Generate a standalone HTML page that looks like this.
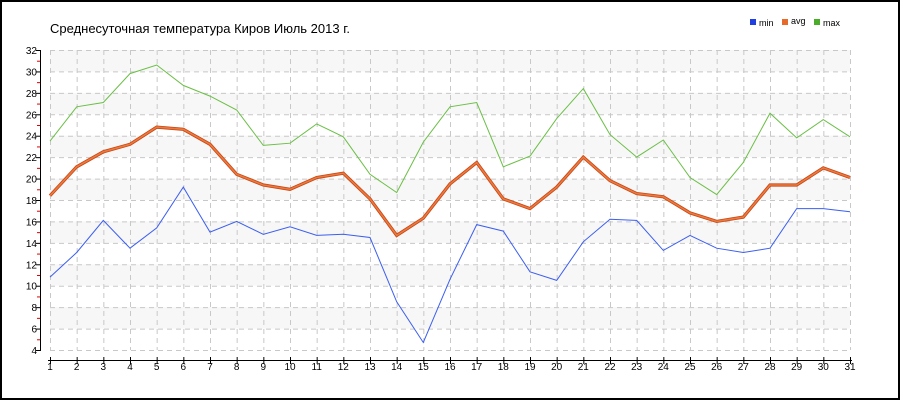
<!DOCTYPE html>
<html><head><meta charset="utf-8"><style>
body{margin:0;background:#fff}
svg{display:block;font-family:"Liberation Sans","DejaVu Sans",sans-serif}
</style></head><body>
<svg id="s" width="900" height="400" viewBox="0 0 900 400">
<rect x="1" y="1" width="898" height="398" fill="#fff" stroke="#000" stroke-width="2"/>
<g id="bands"></g>
<g id="grid" stroke="#c8c8c8" stroke-dasharray="5,4" stroke-width="1"></g>
<text x="50" y="33" font-size="13" fill="#000">Среднесуточная температура Киров  Июль 2013 г.</text>
<rect x="750" y="19" width="6" height="6" fill="#1f3fe0"/><text x="759" y="26" font-size="9">min</text>
<rect x="782" y="19" width="6" height="6" fill="#e86a2a"/><text x="791" y="24" font-size="9">avg</text>
<rect x="814" y="19" width="6" height="6" fill="#4aad2a"/><text x="823" y="26" font-size="9">max</text>
<g font-size="10" text-anchor="end" fill="#000">
<text x="37" y="354">4</text><text x="37" y="332.6">6</text><text x="37" y="311.1">8</text><text x="37" y="289.7">10</text><text x="37" y="268.3">12</text><text x="37" y="246.9">14</text><text x="37" y="225.4">16</text><text x="37" y="204">18</text><text x="37" y="182.6">20</text><text x="37" y="161.1">22</text><text x="37" y="139.7">24</text><text x="37" y="118.3">26</text><text x="37" y="96.9">28</text><text x="37" y="75.4">30</text><text x="37" y="54">32</text>
</g>
<g font-size="10" text-anchor="middle" fill="#000">
<text x="50" y="370">1</text><text x="76.7" y="370">2</text><text x="103.3" y="370">3</text><text x="130" y="370">4</text><text x="156.7" y="370">5</text><text x="183.3" y="370">6</text><text x="210" y="370">7</text><text x="236.7" y="370">8</text><text x="263.3" y="370">9</text><text x="290" y="370">10</text><text x="316.7" y="370">11</text><text x="343.3" y="370">12</text><text x="370" y="370">13</text><text x="396.7" y="370">14</text><text x="423.3" y="370">15</text><text x="450" y="370">16</text><text x="476.7" y="370">17</text><text x="503.3" y="370">18</text><text x="530" y="370">19</text><text x="556.7" y="370">20</text><text x="583.3" y="370">21</text><text x="610" y="370">22</text><text x="636.7" y="370">23</text><text x="663.3" y="370">24</text><text x="690" y="370">25</text><text x="716.7" y="370">26</text><text x="743.3" y="370">27</text><text x="770" y="370">28</text><text x="796.7" y="370">29</text><text x="823.3" y="370">30</text><text x="850" y="370">31</text>
</g>
<g id="axes" stroke="#000" stroke-width="1"></g>
<g id="lines" fill="none"></g>
</svg>
<script>
var NS="http://www.w3.org/2000/svg";
function el(p,t,a){var e=document.createElementNS(NS,t);for(var k in a)e.setAttribute(k,a[k]);document.getElementById(p).appendChild(e);return e;}
function Y(v){return 350-(v-4)*300/28;}
function X(d){return 50+(d-1)*800/30;}
for(var v=6;v<32;v+=4){el("bands","rect",{x:50,y:Y(v+2),width:800,height:Y(v)-Y(v+2),fill:"#f7f7f7"});}
el("bands","rect",{x:50,y:Y(32),width:800,height:Y(30)-Y(32),fill:"#f7f7f7"});
for(var v=4;v<=32;v+=2)el("grid","line",{x1:50,x2:850,y1:Y(v)+.5,y2:Y(v)+.5});
for(var d=1;d<=31;d++)el("grid","line",{x1:X(d)+.5,x2:X(d)+.5,y1:50,y2:350});
el("axes","line",{x1:40.5,x2:40.5,y1:50,y2:351});
for(var v=4;v<=32;v+=2)el("axes","line",{x1:36,x2:41,y1:Y(v)+.5,y2:Y(v)+.5});
for(var v=5;v<32;v+=2)el("axes","line",{x1:37,x2:40,y1:Y(v)+.5,y2:Y(v)+.5,stroke:"#e00000"});
el("axes","line",{x1:48,x2:852,y1:360.5,y2:360.5});
for(var d=1;d<=31;d++)el("axes","line",{x1:X(d)+.5,x2:X(d)+.5,y1:357,y2:364});
var mx=[23.5,26.7,27.1,29.8,30.6,28.7,27.7,26.4,23.1,23.3,25.1,23.9,20.4,18.7,23.4,26.7,27.1,21.1,22.1,25.6,28.4,24.1,22.0,23.6,20.1,18.5,21.5,26.1,23.8,25.5,23.9];
var av=[18.4,21.1,22.5,23.2,24.8,24.6,23.2,20.4,19.4,19.0,20.1,20.5,18.1,14.7,16.3,19.5,21.5,18.1,17.2,19.2,22.0,19.8,18.6,18.3,16.8,16.0,16.4,19.4,19.4,21.0,20.1];
var mn=[10.8,13.1,16.1,13.5,15.4,19.2,15.0,16.0,14.8,15.5,14.7,14.8,14.5,8.5,4.7,10.6,15.7,15.1,11.3,10.5,14.1,16.2,16.1,13.3,14.7,13.5,13.1,13.5,17.2,17.2,16.9];
function pts(a){return a.map(function(v,i){return X(i+1).toFixed(1)+","+Y(v).toFixed(1)}).join(" ");}
el("lines","polyline",{points:pts(mx),stroke:"#6abf45","stroke-width":1});
el("lines","polyline",{points:pts(mn),stroke:"#3b5ef0","stroke-width":1});
el("lines","polyline",{points:pts(av),stroke:"#c2471a","stroke-width":3.2});
el("lines","polyline",{points:pts(av),stroke:"#f07838","stroke-width":1.6});
</script>
</body></html>
